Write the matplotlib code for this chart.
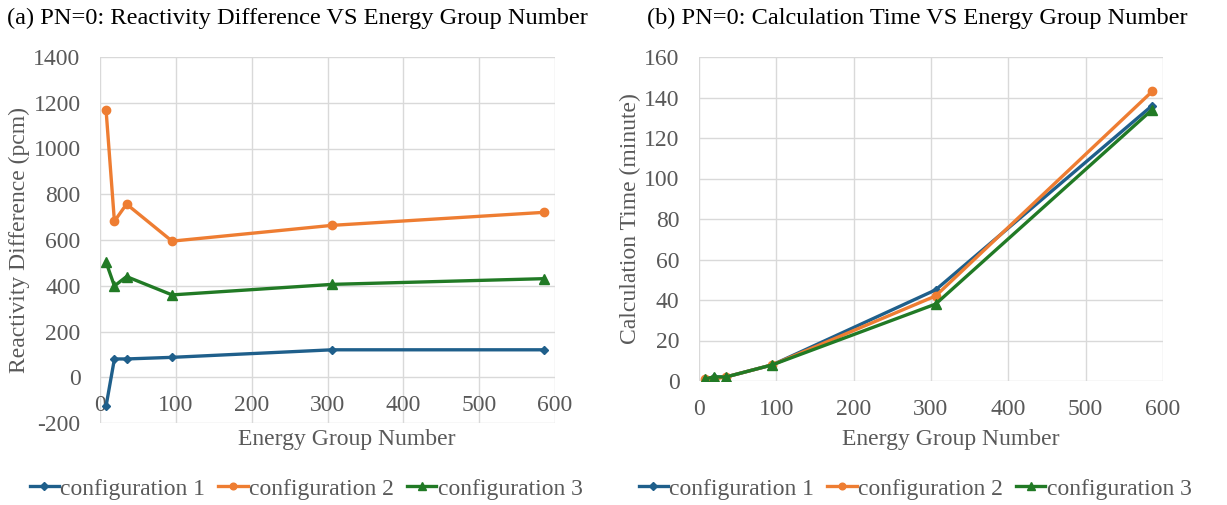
import matplotlib.pyplot as plt
from matplotlib.lines import Line2D

plt.rcParams['font.family'] = ['Liberation Serif', 'DejaVu Serif']
plt.rcParams['axes.unicode_minus'] = False

# Energy group structures
groups = [8, 19, 35, 95, 306, 586]

# Reactivity difference (pcm)
react_c1 = [-126, 80, 80, 87, 120, 120]
react_c2 = [1168, 682, 757, 595, 664, 721]
react_c3 = [503, 399, 440, 360, 406, 431]

# Calculation time (minute)
time_c1 = [1, 2, 2, 8, 45, 136]
time_c2 = [1, 1, 2, 8, 42, 143]
time_c3 = [1, 2, 2, 8, 38, 134]

labels = ['configuration 1', 'configuration 2', 'configuration 3']
colors = ['#1f5f8b', '#ee7d32', '#217a25']
markers = ['D', 'o', '^']
msizes = [4.5, 6, 6.5]

TXT = '#595959'
GRID = '#d9d9d9'
FS = 17

fig = plt.figure(figsize=(12.27, 5.05), dpi=100)
W, H = 1227, 505


def px_axes(l, t, r, b):
    return fig.add_axes([l / W, 1 - b / H, (r - l) / W, (b - t) / H])


def style(ax, ylim, yticks):
    ax.set_xlim(0, 600)
    ax.set_xticks(range(0, 601, 100))
    ax.set_ylim(*ylim)
    ax.set_yticks(yticks)
    ax.grid(True, color=GRID, linewidth=1.0)
    ax.set_axisbelow(True)
    for s in ax.spines.values():
        s.set_visible(False)
    ax.tick_params(length=0, labelsize=FS, colors=TXT)
    ax.tick_params(axis='y', pad=14)
    ax.tick_params(axis='x', pad=13)


ax1 = px_axes(100, 57, 555, 423)
for ys, c, m, ms in zip([react_c1, react_c2, react_c3], colors, markers, msizes):
    ax1.plot(groups, ys, color=c, marker=m, markersize=ms, linewidth=2.4)
style(ax1, (-200, 1400), range(-200, 1401, 200))
# horizontal axis crosses at zero, so its labels sit under the zero line
ax1.spines['bottom'].set_position(('data', 0))

ax2 = px_axes(699, 57, 1163, 381)
for ys, c, m, ms in zip([time_c1, time_c2, time_c3], colors, markers, msizes):
    ax2.plot(groups, ys, color=c, marker=m, markersize=ms, linewidth=2.4)
style(ax2, (0, 160), range(0, 161, 20))

# titles and axis titles
fig.text(297 / W, 1 - 18 / H, '(a) PN=0: Reactivity Difference VS Energy Group Number',
         ha='center', va='center', fontsize=17.6, color='#000000')
fig.text(917 / W, 1 - 18 / H, '(b) PN=0: Calculation Time VS Energy Group Number',
         ha='center', va='center', fontsize=17.6, color='#000000')
fig.text(347 / W, 1 - 440 / H, 'Energy Group Number', ha='center', va='center',
         fontsize=FS, color=TXT)
fig.text(951 / W, 1 - 440 / H, 'Energy Group Number', ha='center', va='center',
         fontsize=FS, color=TXT)
fig.text(19 / W, 1 - 240 / H, 'Reactivity Difference (pcm)', ha='center', va='center',
         rotation=90, fontsize=FS, color=TXT)
fig.text(630 / W, 1 - 219 / H, 'Calculation Time (minute)', ha='center', va='center',
         rotation=90, fontsize=FS, color=TXT)

handles = [Line2D([], [], color=c, marker=m, markersize=ms * 0.8, linewidth=2.4)
           for c, m, ms in zip(colors, markers, msizes)]

for cx in [306, 915]:
    fig.legend(handles, labels, loc='center', bbox_to_anchor=(cx / W, 1 - 489 / H),
               ncol=3, frameon=False, fontsize=FS, handlelength=1.25,
               handletextpad=0.05, columnspacing=0.55, labelcolor=TXT)

fig.savefig('out.png', dpi=100)
